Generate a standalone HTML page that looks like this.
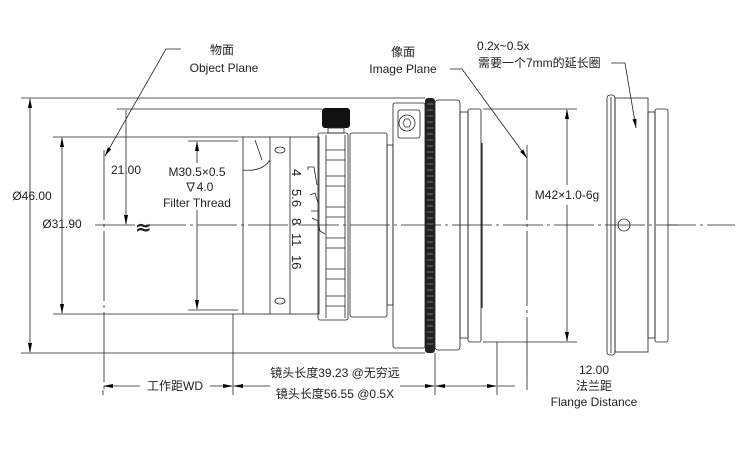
<!DOCTYPE html>
<html><head><meta charset="utf-8">
<style>
html,body{margin:0;padding:0;background:#fff;}
svg{display:block;}
text{font-family:"Liberation Sans","Noto Sans CJK SC",sans-serif;font-size:12px;fill:#222;}
</style></head>
<body>
<svg width="736" height="455" viewBox="0 0 736 455" xmlns="http://www.w3.org/2000/svg">
<g stroke="#222" stroke-width="0.8" fill="none">
<line x1="95" y1="225" x2="735" y2="225" stroke-dasharray="40,4,3,4"/>
<line x1="21" y1="98" x2="425" y2="98"/>
<line x1="21" y1="353" x2="425" y2="353"/>
<line x1="30" y1="99" x2="30" y2="352"/>
<line x1="53" y1="137" x2="243" y2="137"/>
<line x1="53" y1="314" x2="243" y2="314"/>
<line x1="62" y1="138" x2="62" y2="313"/>
<line x1="117" y1="109" x2="322" y2="109"/>
<line x1="126" y1="110" x2="126" y2="224"/>
<line x1="188" y1="141" x2="238" y2="141"/>
<line x1="188" y1="310" x2="238" y2="310"/>
<line x1="197" y1="142" x2="197" y2="163"/>
<line x1="197" y1="210" x2="197" y2="309"/>
<line x1="104" y1="150" x2="104" y2="390" stroke-dasharray="70,4,3,4"/>
<polyline points="181,49 166,49 105,156"/>
<line x1="527" y1="145" x2="527" y2="390" stroke-dasharray="75,4,3,4"/>
<polyline points="450,69 462,69 527,158"/>
<polyline points="611,63 625,63 636,128"/>
<line x1="483" y1="109" x2="577" y2="109"/>
<line x1="483" y1="342" x2="577" y2="342"/>
<line x1="567" y1="110" x2="567" y2="185"/>
<line x1="567" y1="205" x2="567" y2="341"/>
<line x1="103" y1="390" x2="103" y2="395"/>
<line x1="233" y1="314" x2="233" y2="395"/>
<line x1="435" y1="353" x2="435" y2="395"/>
<line x1="497" y1="342" x2="497" y2="395"/>
<line x1="104" y1="386" x2="140" y2="386"/>
<line x1="210" y1="386" x2="232" y2="386"/>
<line x1="234" y1="386" x2="270" y2="386"/>
<line x1="400" y1="386" x2="434" y2="386"/>
<line x1="436" y1="386" x2="496" y2="386"/>
<line x1="498" y1="386" x2="515" y2="386"/>

<rect x="243" y="137" width="76" height="177"/>
<line x1="270" y1="137" x2="270" y2="314"/>
<line x1="290" y1="137" x2="290" y2="314"/>
<path d="M243,170 Q262,172 270,160 M255,140 L262,160"/>
<ellipse cx="280" cy="150" rx="5" ry="3"/>
<ellipse cx="280" cy="301" rx="5" ry="3"/>
<path d="M308,170 l0,-3 l6,0 l3,18 M310,195 l5,-2 l3,10 M311,211 l7,0 M312,218 l6,3 l2,10 l5,3"/>
<rect x="318" y="133" width="30" height="187" rx="2"/>
<line x1="326" y1="135" x2="326" y2="318"/>
<line x1="345" y1="135" x2="345" y2="318"/>
<g stroke-width="0.7">
<line x1="326" y1="150" x2="345" y2="150"/><line x1="326" y1="160" x2="345" y2="160"/>
<line x1="326" y1="176" x2="345" y2="176"/><line x1="326" y1="186" x2="345" y2="186"/>
<line x1="326" y1="207" x2="345" y2="207"/><line x1="326" y1="217" x2="345" y2="217"/>
<line x1="326" y1="238" x2="345" y2="238"/><line x1="326" y1="248" x2="345" y2="248"/>
<line x1="326" y1="269" x2="345" y2="269"/><line x1="326" y1="279" x2="345" y2="279"/>
<line x1="326" y1="296" x2="345" y2="296"/><line x1="326" y1="306" x2="345" y2="306"/>
</g>
<rect x="350" y="133" width="37" height="184" rx="2"/>
<rect x="387" y="145" width="6" height="160"/>
<rect x="393" y="103" width="32" height="245" rx="2"/>
<rect x="398" y="110" width="22" height="28" rx="2"/>
<circle cx="407" cy="123" r="8"/>
<rect x="435" y="100" width="25" height="250" rx="3"/>
<rect x="460" y="112" width="8" height="226"/>
<rect x="468" y="109" width="13" height="233" rx="2"/>
<line x1="482" y1="143" x2="482" y2="308" stroke-width="1.2"/>
<rect x="607" y="95" width="8" height="260" rx="3"/>
<line x1="611" y1="97" x2="611" y2="353"/>
<rect x="615" y="98" width="33" height="254"/>
<rect x="648" y="112" width="7" height="226"/>
<rect x="655" y="109" width="13" height="233" rx="2"/>
<circle cx="624" cy="225" r="6"/>
<line x1="668" y1="225" x2="678" y2="225"/>
</g>
<g fill="#000" stroke="none">
<polygon points="30,98 28,108 32,108"/>
<polygon points="30,353 28,343 32,343"/>
<polygon points="62,137 60,147 64,147"/>
<polygon points="62,314 60,304 64,304"/>
<polygon points="126,225 124,215 128,215"/>
<polygon points="197,141 195,151 199,151"/>
<polygon points="197,310 195,300 199,300"/>
<polygon points="567,109 565,119 569,119"/>
<polygon points="567,342 565,332 569,332"/>
<polygon points="105,156 111.2,149.2 107.8,147.2"/>
<polygon points="527,158 523.3,149.5 520.1,151.9"/>
<polygon points="636,128 636.5,118.8 632.5,119.4"/>
<polygon points="103,386 113,384 113,388"/>
<polygon points="233,386 223,384 223,388"/>
<polygon points="233,386 243,384 243,388"/>
<polygon points="435,386 425,384 425,388"/>
<polygon points="435,386 445,384 445,388"/>
<polygon points="497,386 487,384 487,388"/>
</g>
<rect x="322" y="108" width="28" height="20" rx="3" fill="#111"/>
<rect x="328" y="128" width="16" height="5" fill="none" stroke="#222" stroke-width="0.8"/>
<rect x="425" y="98" width="10" height="255" rx="3" fill="#222"/>
<g stroke="#bbb" stroke-width="0.6">
<path d="M427,104H433M427,110H433M427,116H433M427,122H433M427,128H433M427,134H433M427,140H433M427,146H433M427,152H433M427,158H433M427,164H433M427,170H433M427,176H433M427,182H433M427,188H433M427,194H433M427,200H433M427,206H433M427,212H433M427,218H433M427,224H433M427,230H433M427,236H433M427,242H433M427,248H433M427,254H433M427,260H433M427,266H433M427,272H433M427,278H433M427,284H433M427,290H433M427,296H433M427,302H433M427,308H433M427,314H433M427,320H433M427,326H433M427,332H433M427,338H433M427,344H433"/>
</g>
<polygon points="403,123 405,119 409,119 411,123 409,127 405,127" fill="none" stroke="#222" stroke-width="0.7"/>
<g transform="translate(296,225) rotate(90)">
<text x="-56" y="4" style="font-size:13px">4</text>
<text x="-36" y="4" style="font-size:13px">5.6</text>
<text x="-7" y="4" style="font-size:13px">8</text>
<text x="8" y="4" style="font-size:13px">11</text>
<text x="30" y="4" style="font-size:13px">16</text>
</g>
<text x="222" y="54" text-anchor="middle">物面</text>
<text x="224" y="72" text-anchor="middle">Object Plane</text>
<text x="403" y="56" text-anchor="middle">像面</text>
<text x="403" y="73" text-anchor="middle">Image Plane</text>
<text x="477" y="50">0.2x~0.5x</text>
<text x="478" y="67">需要一个7mm的延长圈</text>
<text x="32" y="200" text-anchor="middle">Ø46.00</text>
<text x="62" y="228" text-anchor="middle">Ø31.90</text>
<text x="126" y="174" text-anchor="middle">21.00</text>
<text x="135" y="234" style="font-size:20px;font-family:'DejaVu Sans',sans-serif;font-weight:bold">≈</text>
<text x="197" y="176" text-anchor="middle">M30.5×0.5</text>
<text x="199" y="191" text-anchor="middle">∇4.0</text>
<text x="197" y="207" text-anchor="middle">Filter Thread</text>
<text x="567" y="199" text-anchor="middle">M42×1.0-6g</text>
<text x="175" y="390" text-anchor="middle">工作距WD</text>
<text x="335" y="377" text-anchor="middle">镜头长度39.23 @无穷远</text>
<text x="335" y="398" text-anchor="middle">镜头长度56.55 @0.5X</text>
<text x="594" y="374" text-anchor="middle">12.00</text>
<text x="594" y="390" text-anchor="middle">法兰距</text>
<text x="594" y="406" text-anchor="middle">Flange Distance</text>
</svg>
</body></html>
